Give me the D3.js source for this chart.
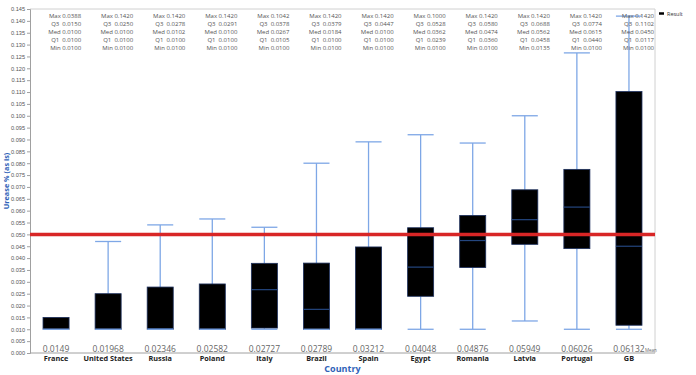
<!DOCTYPE html>
<html>
<head>
<meta charset="utf-8">
<script src="https://cdn.jsdelivr.net/npm/d3@7"></script>
<style>
  body { margin: 0; background: #fff; }
  svg { font-family: "Open Sans", "Noto Sans", sans-serif; }
</style>
</head>
<body>
<div id="chart"></div>
<script>
// categories, sorted by mean
var countries = ["France", "United States", "Russia", "Poland", "Italy", "Brazil", "Spain", "Egypt", "Romania", "Latvia", "Portugal", "GB"];
var means = [0.0149, 0.01968, 0.02346, 0.02582, 0.02727, 0.02789, 0.03212, 0.04048, 0.04876, 0.05949, 0.06026, 0.06132];

// summary table printed on top
var statMax = [0.0388, 0.1420, 0.1420, 0.1420, 0.1042, 0.1420, 0.1420, 0.1000, 0.1420, 0.1420, 0.1420, 0.1420];
var statQ3  = [0.0150, 0.0250, 0.0278, 0.0291, 0.0378, 0.0379, 0.0447, 0.0528, 0.0580, 0.0688, 0.0774, 0.1102];
var statMed = [0.0100, 0.0100, 0.0102, 0.0100, 0.0267, 0.0184, 0.0100, 0.0362, 0.0474, 0.0562, 0.0615, 0.0450];
var statQ1  = [0.0100, 0.0100, 0.0100, 0.0100, 0.0105, 0.0100, 0.0100, 0.0239, 0.0360, 0.0458, 0.0440, 0.0117];
var statMin = [0.0100, 0.0100, 0.0100, 0.0100, 0.0100, 0.0100, 0.0100, 0.0100, 0.0100, 0.0135, 0.0100, 0.0100];

// whisker ends as drawn (outliers not shown)
var whiskerHi = [0.0150, 0.0470, 0.0540, 0.0565, 0.0530, 0.0800, 0.0890, 0.0920, 0.0885, 0.1000, 0.1265, 0.1420];
var whiskerLo = [0.0100, 0.0100, 0.0100, 0.0100, 0.0100, 0.0100, 0.0100, 0.0100, 0.0100, 0.0135, 0.0100, 0.0100];

var yTicks = d3.range(0, 0.1451, 0.005);
var refLine = 0.050;

var width = 696, height = 375;
var margin = {top: 9, left: 30, right: 41, bottom: 22};

var svg = d3.select("#chart").append("svg")
    .attr("width", width)
    .attr("height", height);

var x = d3.scaleBand()
    .domain(countries)
    .range([margin.left, width - margin.right]);

var y = d3.scaleLinear()
    .domain([0, 0.145])
    .range([height - margin.bottom, margin.top]);

var bw = x.bandwidth() * 0.5;

var rows = countries.map(function(c, i){
    return {
        name: c, mean: means[i],
        max: statMax[i], q3: statQ3[i], med: statMed[i], q1: statQ1[i], min: statMin[i],
        hi: whiskerHi[i], lo: whiskerLo[i]
    };
});

// frame
svg.append("line")
    .attr("x1", margin.left).attr("x2", width - margin.right)
    .attr("y1", margin.top).attr("y2", margin.top)
    .attr("stroke", "#d0d0d0");
svg.append("line")
    .attr("x1", width - margin.right).attr("x2", width - margin.right)
    .attr("y1", margin.top).attr("y2", height - margin.bottom)
    .attr("stroke", "#d0d0d0");

// y axis
var yAxis = svg.append("g")
    .attr("transform", "translate(" + margin.left + ",0)")
    .call(d3.axisLeft(y).tickValues(yTicks).tickFormat(d3.format(".3f")).tickSize(3).tickPadding(2));
yAxis.select(".domain").attr("stroke", "#a0a0a0");
yAxis.selectAll(".tick line").attr("stroke", "#a0a0a0");
yAxis.selectAll("text").attr("fill", "#555").style("font-size", "5.6px");

// bottom axis line
svg.append("line")
    .attr("x1", margin.left).attr("x2", width - margin.right)
    .attr("y1", y(0)).attr("y2", y(0))
    .attr("stroke", "#a0a0a0");

var g = svg.append("g");

// whisker stems
g.selectAll(".stemHi").data(rows).enter().append("line")
    .attr("x1", function(d){ return x(d.name) + x.bandwidth() / 2; })
    .attr("x2", function(d){ return x(d.name) + x.bandwidth() / 2; })
    .attr("y1", function(d){ return y(d.q3); })
    .attr("y2", function(d){ return y(d.hi); })
    .attr("stroke", "#7ea7e6").attr("stroke-width", 1.3);
g.selectAll(".stemLo").data(rows).enter().append("line")
    .attr("x1", function(d){ return x(d.name) + x.bandwidth() / 2; })
    .attr("x2", function(d){ return x(d.name) + x.bandwidth() / 2; })
    .attr("y1", function(d){ return y(d.q1); })
    .attr("y2", function(d){ return y(d.lo); })
    .attr("stroke", "#7ea7e6").attr("stroke-width", 1.3);

// boxes
g.selectAll("rect").data(rows).enter().append("rect")
    .attr("x", function(d){ return x(d.name) + (x.bandwidth() - bw) / 2; })
    .attr("y", function(d){ return y(d.q3); })
    .attr("width", bw)
    .attr("height", function(d){ return y(d.q1) - y(d.q3); })
    .attr("fill", "#000")
    .attr("stroke", "#1c2f5c").attr("stroke-width", 0.8);

// medians
g.selectAll(".med").data(rows).enter().append("line")
    .attr("x1", function(d){ return x(d.name) + (x.bandwidth() - bw) / 2; })
    .attr("x2", function(d){ return x(d.name) + (x.bandwidth() + bw) / 2; })
    .attr("y1", function(d){ return y(d.med); })
    .attr("y2", function(d){ return y(d.med); })
    .attr("stroke", "#24467f").attr("stroke-width", 1.2);

// caps
["hi", "lo"].forEach(function(k){
    g.selectAll(".cap" + k).data(rows.filter(function(d){ return d[k] !== d.q3 || k === "lo"; }))
        .enter().append("line")
        .attr("x1", function(d){ return x(d.name) + (x.bandwidth() - bw) / 2; })
        .attr("x2", function(d){ return x(d.name) + (x.bandwidth() + bw) / 2; })
        .attr("y1", function(d){ return y(d[k]); })
        .attr("y2", function(d){ return y(d[k]); })
        .attr("stroke", "#7ea7e6").attr("stroke-width", 1.3);
});

// reference line
svg.append("line")
    .attr("x1", margin.left).attr("x2", width - margin.right)
    .attr("y1", y(refLine)).attr("y2", y(refLine))
    .attr("stroke", "#d82626").attr("stroke-width", 3.5);

// stats block
var fmt4 = d3.format(".4f");
var statRows = [["Max", "max"], ["Q3", "q3"], ["Med", "med"], ["Q1", "q1"], ["Min", "min"]];
rows.forEach(function(d){
    var tx = x(d.name) + x.bandwidth() - 1;
    statRows.forEach(function(s, j){
        svg.append("text")
            .attr("x", tx)
            .attr("y", 17.5 + j * 8.2)
            .attr("text-anchor", "end")
            .attr("fill", "#555")
            .style("font-size", "6px")
            .style("white-space", "pre")
            .text(s[0] + (s[0].length < 3 ? "  " : " ") + fmt4(d[s[1]]));
    });
});

// means under boxes
svg.selectAll(".mean").data(rows).enter().append("text")
    .attr("x", function(d){ return x(d.name) + x.bandwidth() / 2; })
    .attr("y", y(0) - 1.5)
    .attr("text-anchor", "middle")
    .attr("fill", "#666")
    .style("font-size", "8.5px")
    .text(function(d){ return String(d.mean); });
svg.append("text")
    .attr("x", x("GB") + x.bandwidth() / 2 + 16)
    .attr("y", y(0) - 1.5)
    .attr("fill", "#666")
    .style("font-size", "4.5px")
    .text("Mean");

// category labels
svg.selectAll(".cat").data(countries).enter().append("text")
    .attr("x", function(d){ return x(d) + x.bandwidth() / 2; })
    .attr("y", y(0) + 8)
    .attr("text-anchor", "middle")
    .attr("fill", "#222")
    .style("font-size", "7.3px")
    .style("font-weight", "bold")
    .text(function(d){ return d; });

// axis titles
svg.append("text")
    .attr("x", (margin.left + width - margin.right) / 2 + 0)
    .attr("y", height - 3.5)
    .attr("text-anchor", "middle")
    .attr("fill", "#2f62b8")
    .style("font-size", "9px")
    .style("font-weight", "bold")
    .text("Country");
svg.append("text")
    .attr("transform", "translate(8.5," + 181 + ") rotate(-90)")
    .attr("text-anchor", "middle")
    .attr("fill", "#2f62b8")
    .style("font-size", "7.3px")
    .style("font-weight", "bold")
    .text("Urease % (as is)");

// legend
svg.append("line")
    .attr("x1", 659).attr("x2", 664)
    .attr("y1", 13.5).attr("y2", 13.5)
    .attr("stroke", "#000").attr("stroke-width", 2.5);
svg.append("text")
    .attr("x", 667).attr("y", 15.5)
    .attr("fill", "#333")
    .style("font-size", "5.5px")
    .text("Result");
</script>
</body>
</html>
